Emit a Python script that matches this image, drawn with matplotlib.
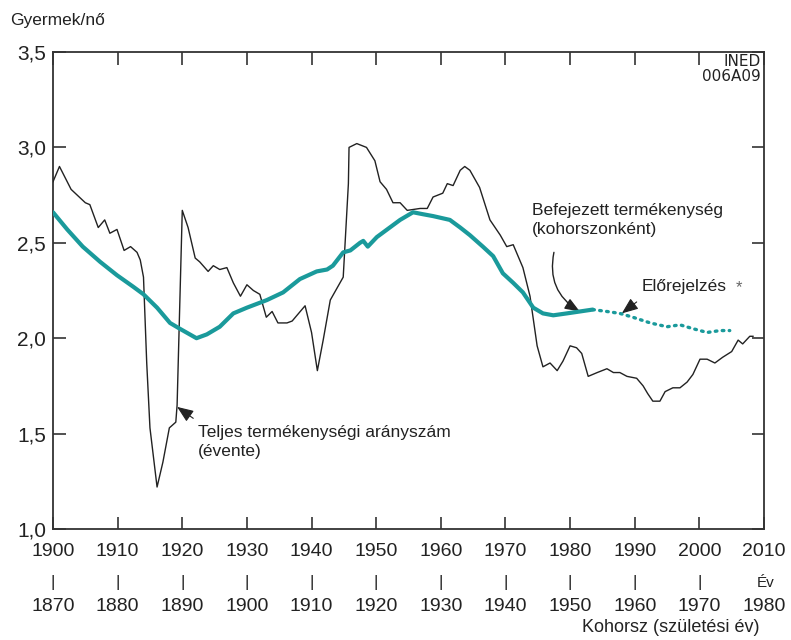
import matplotlib
matplotlib.use("Agg")
import matplotlib.pyplot as plt
from matplotlib.ticker import FuncFormatter

plt.rcParams['font.family'] = ['Liberation Sans', 'DejaVu Sans']

# Annual total fertility rate (calendar year)
tfr_year = [1900.0, 1901.0, 1902.8, 1905.0, 1905.7, 1907.0, 1908.0, 1908.8, 1909.9, 1911.0,
            1912.0, 1913.0, 1913.5, 1914.0, 1914.5, 1915.0, 1916.1, 1917.0, 1918.0, 1919.0,
            1919.2, 1920.0, 1920.9, 1922.0, 1922.7, 1924.0, 1924.8, 1925.8, 1926.9, 1927.9,
            1929.0, 1930.0, 1931.0, 1932.0, 1933.0, 1933.9, 1934.8, 1936.2, 1937.0, 1939.0,
            1940.0, 1940.9, 1941.8, 1942.9, 1944.9, 1945.7, 1945.8, 1947.0, 1948.5, 1949.8,
            1950.6, 1951.6, 1952.6, 1953.7, 1954.8, 1956.8, 1957.9, 1958.8, 1960.3, 1961.0,
            1961.9, 1963.0, 1963.7, 1964.5, 1966.0, 1967.6, 1969.2, 1970.2, 1971.2, 1972.7,
            1973.8, 1974.9, 1975.8, 1976.9, 1978.0, 1978.9, 1980.0, 1981.0, 1981.8, 1982.8,
            1984.2, 1985.7, 1986.7, 1987.7, 1988.8, 1990.3, 1991.3, 1992.0, 1992.8, 1993.9,
            1994.7, 1995.9, 1997.0, 1998.1, 1999.0, 2000.1, 2001.2, 2002.4, 2003.6, 2005.0,
            2006.0, 2006.7, 2007.8, 2008.3]
tfr_value = [2.82, 2.90, 2.78, 2.71, 2.70, 2.58, 2.62, 2.55, 2.57, 2.46,
             2.48, 2.45, 2.41, 2.32, 1.87, 1.53, 1.22, 1.35, 1.53, 1.56,
             1.65, 2.67, 2.58, 2.42, 2.40, 2.35, 2.38, 2.36, 2.37, 2.29,
             2.22, 2.28, 2.25, 2.23, 2.11, 2.14, 2.08, 2.08, 2.09, 2.17,
             2.03, 1.83, 1.99, 2.20, 2.32, 2.81, 3.00, 3.02, 3.00, 2.93,
             2.82, 2.78, 2.71, 2.71, 2.67, 2.68, 2.68, 2.74, 2.76, 2.81,
             2.80, 2.88, 2.90, 2.88, 2.79, 2.62, 2.54, 2.48, 2.49, 2.37,
             2.22, 1.96, 1.85, 1.87, 1.83, 1.88, 1.96, 1.95, 1.92, 1.80,
             1.82, 1.84, 1.82, 1.82, 1.80, 1.79, 1.75, 1.71, 1.67, 1.67,
             1.72, 1.74, 1.74, 1.77, 1.81, 1.89, 1.89, 1.87, 1.90, 1.93,
             1.99, 1.97, 2.01, 2.01]

# Completed cohort fertility, placed at cohort + 30 on the calendar-year axis
cohort_year = [1900.0, 1902.2, 1904.6, 1907.3, 1909.9, 1912.4, 1914.0, 1916.1, 1918.1, 1919.6,
               1922.2, 1923.8, 1925.8, 1927.9, 1930.0, 1933.1, 1935.6, 1938.2, 1940.8, 1942.4,
               1943.3, 1944.9, 1946.0, 1947.5, 1948.0, 1948.7, 1950.1, 1952.1, 1953.7, 1955.7,
               1957.2, 1958.8, 1961.4, 1963.0, 1964.5, 1966.5, 1968.1, 1969.6, 1971.2, 1972.7,
               1974.3, 1975.8, 1977.4, 1979.5, 1981.5, 1983.5]
cohort_value = [2.66, 2.57, 2.48, 2.40, 2.33, 2.27, 2.23, 2.16, 2.08, 2.05,
                2.00, 2.02, 2.06, 2.13, 2.16, 2.20, 2.24, 2.31, 2.35, 2.36,
                2.38, 2.45, 2.46, 2.50, 2.51, 2.48, 2.53, 2.58, 2.62, 2.66,
                2.65, 2.64, 2.62, 2.58, 2.54, 2.48, 2.43, 2.34, 2.29, 2.24,
                2.16, 2.13, 2.12, 2.13, 2.14, 2.15]

# Forecast of cohort fertility
forecast_year = [1983.5, 1985.7, 1987.7, 1989.7, 1992.4, 1995.0, 1997.0, 1999.0, 2001.2, 2003.2, 2004.7]
forecast_value = [2.15, 2.14, 2.13, 2.11, 2.08, 2.06, 2.07, 2.05, 2.03, 2.04, 2.04]

year_ticks = list(range(1900, 2011, 10))
cohort_labels = [str(y - 30) for y in year_ticks]
y_ticks = [1.0, 1.5, 2.0, 2.5, 3.0, 3.5]

TEAL = '#1a9a9b'
INK = '#222222'

fig = plt.figure(figsize=(7.91, 6.40), dpi=100)
ax = fig.add_axes([53/791, 1 - 529/640, (764 - 53)/791, (529 - 52)/640])

ax.plot(tfr_year, tfr_value, color=INK, lw=1.0, zorder=3)
ax.plot(cohort_year, cohort_value, color=TEAL, lw=3.0, solid_capstyle='round', zorder=4)
ax.plot(forecast_year, forecast_value, color=TEAL, lw=2.4, dashes=(0.5, 1.6),
        dash_capstyle='round', zorder=4)

ax.set_xlim(1900, 2010)
ax.set_ylim(1.0, 3.5)
ax.set_xticks(year_ticks)
ax.set_yticks(y_ticks)
ax.yaxis.set_major_formatter(FuncFormatter(lambda v, p: f"{v:.1f}".replace('.', ',')))
ax.tick_params(direction='in', top=True, right=True, length=9, width=1.2, color='#333333')
ax.tick_params(axis='x', labelsize=14, pad=10, labelcolor=INK)
ax.tick_params(axis='y', labelsize=15, pad=5, labelcolor=INK)
for s in ax.spines.values():
    s.set_linewidth(1.3)
    s.set_color('#333333')

# Cohort axis labels below
xt = ax.get_xaxis_transform()
for y, lab in zip(year_ticks, cohort_labels):
    ax.text(y, -0.163, lab, transform=xt, ha='center', va='center', fontsize=14, color=INK)
    if y != 2010:
        ax.text(y, -0.113, '|', transform=xt, ha='center', va='center', fontsize=12, color=INK)
ax.text(2010.2, -0.113, 'Év', transform=xt, ha='center', va='center', fontsize=11, color=INK)
fig.text(760/791, 1 - 628/640, 'Kohorsz (születési év)', ha='right', va='center',
         fontsize=13, color=INK)
fig.text(10/791, 1 - 20/640, 'Gyermek/nő', ha='left', va='center', fontsize=12.5, color=INK)

# INED stamp
ax.text(2009.5, 3.45, 'INED', ha='right', va='center', fontsize=11,
        family='Liberation Sans Narrow', color=INK)
ax.text(2009.5, 3.37, '006A09', ha='right', va='center', fontsize=11,
        family='Liberation Sans Narrow', color=INK)

# Annotations
ax.text(1974.1, 2.62, 'Befejezett termékenység\n(kohorszonként)', ha='left', va='center',
        fontsize=12.5, linespacing=1.35, color=INK)
ax.annotate('', xy=(1981.5, 2.14), xytext=(1977.5, 2.45),
            arrowprops=dict(arrowstyle='-|>,head_length=0.9,head_width=0.35', color=INK,
                            lw=1.0, connectionstyle='arc3,rad=0.35', shrinkA=0, shrinkB=0))

ax.text(1991.1, 2.27, 'Előrejelzés', ha='left', va='center', fontsize=12.5, color=INK)
ax.text(2006.2, 2.265, '*', ha='center', va='center', fontsize=12, color='#666666')
ax.annotate('', xy=(1988.0, 2.13), xytext=(1990.3, 2.19),
            arrowprops=dict(arrowstyle='-|>,head_length=1.0,head_width=0.4', color=INK,
                            lw=0.8, shrinkA=0, shrinkB=0))

ax.text(1922.4, 1.455, 'Teljes termékenységi arányszám\n(évente)', ha='left', va='center',
        fontsize=12.5, linespacing=1.35, color=INK)
ax.annotate('', xy=(1919.2, 1.64), xytext=(1921.7, 1.58),
            arrowprops=dict(arrowstyle='-|>,head_length=1.0,head_width=0.4', color=INK,
                            lw=0.8, shrinkA=0, shrinkB=0))

fig.savefig('out.png', dpi=100)
